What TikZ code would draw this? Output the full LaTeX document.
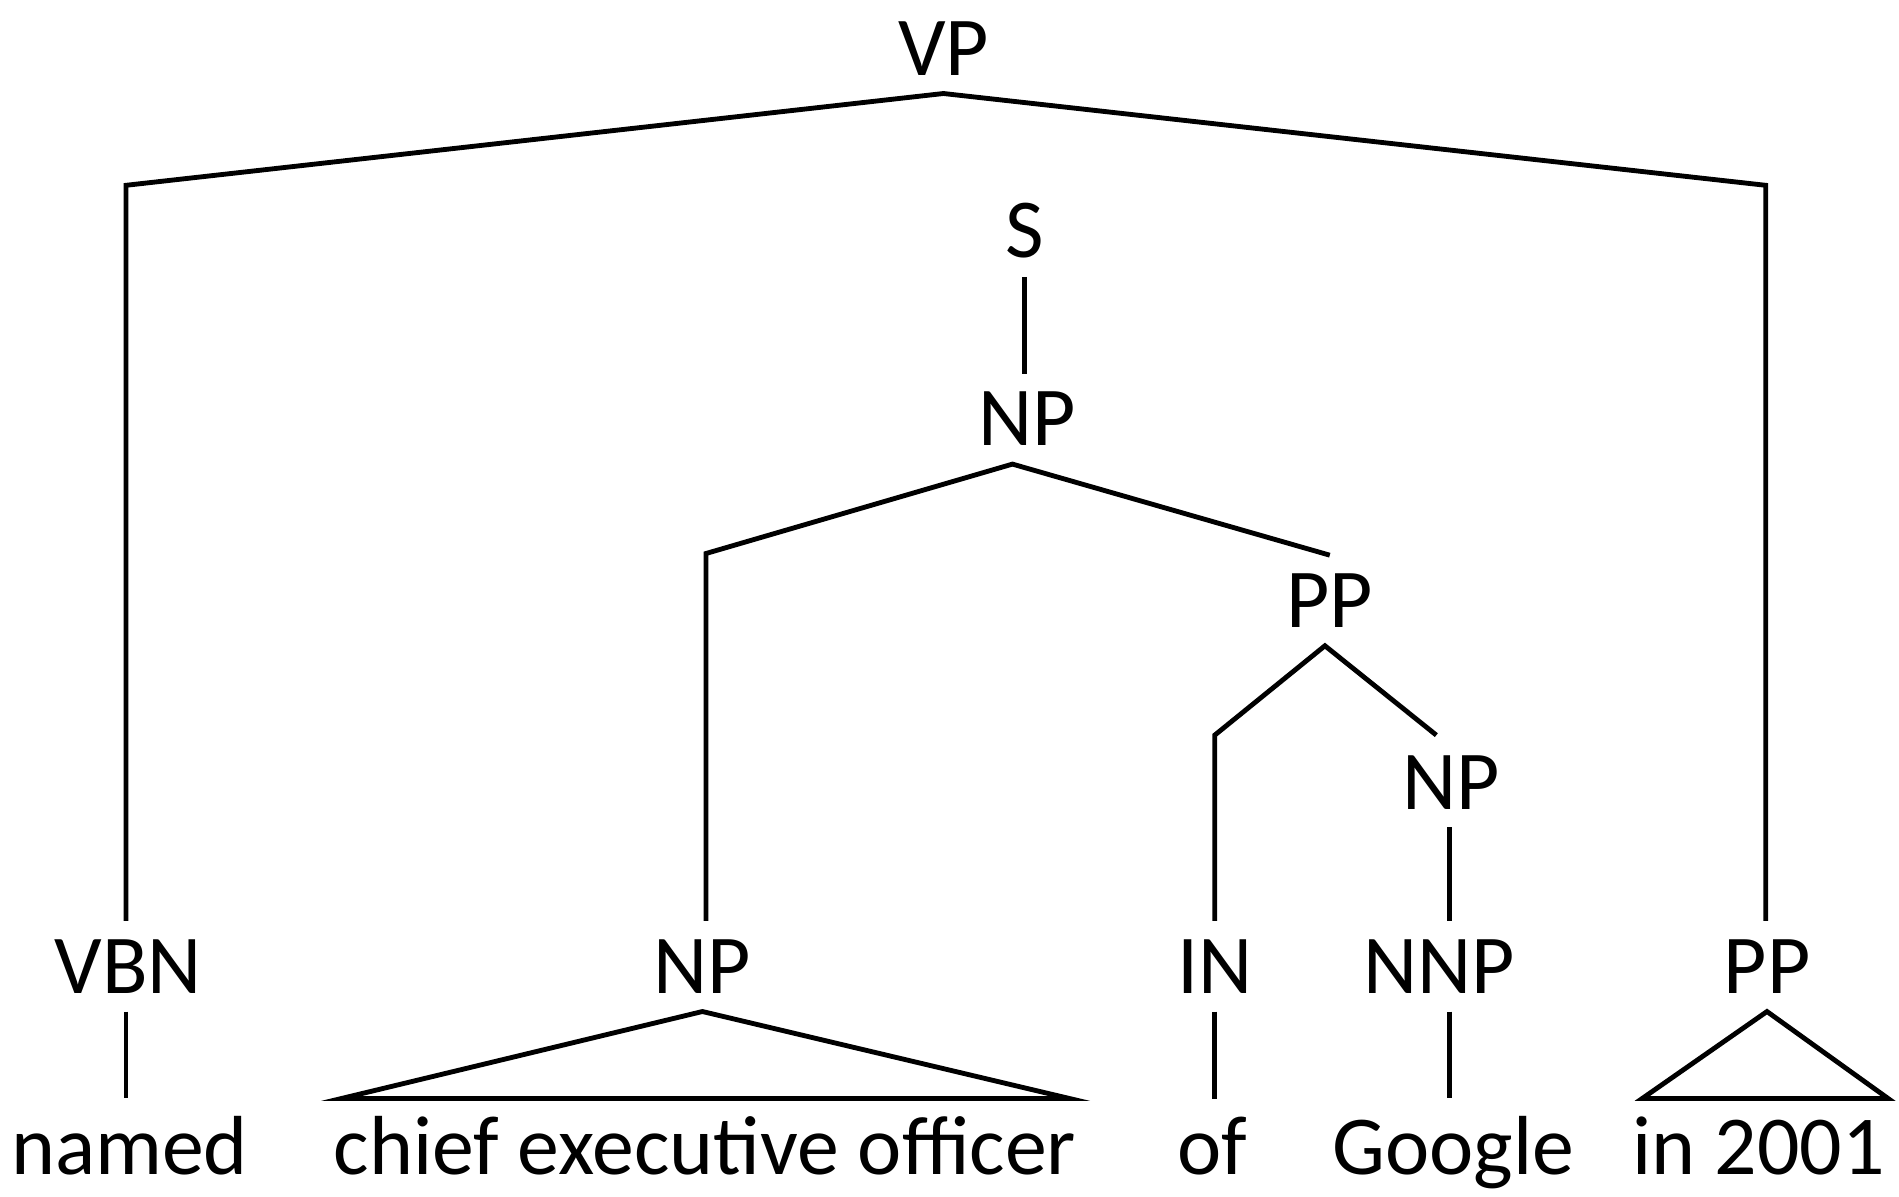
\documentclass[tikz,border=0pt]{standalone}
\usepackage{fontspec}
\setmainfont{Carlito}
\begin{document}
\begin{tikzpicture}[x=0.25pt,y=-0.25pt,line width=1pt,
  cat/.style={font=\fontsize{17.3}{21}\selectfont, inner sep=3.3pt, anchor=base},
  word/.style={font=\fontsize{17.3}{21}\selectfont, inner sep=3.3pt, anchor=base}]
\useasboundingbox (0,0) rectangle (1568,988);
\node[cat] (VP) at (779,62) {VP};
\node[cat] (S) at (846,213) {S};
\node[cat] (NP1) at (848,368) {NP};
\node[cat] (PP1) at (1098,518) {PP};
\node[cat] (NP2) at (1198,668) {NP};
\node[cat] (VBN) at (106,820) {VBN};
\node[cat] (NP3) at (580,820) {NP};
\node[cat] (IN) at (1003,820) {IN};
\node[cat] (NNP) at (1188,820) {NNP};
\node[cat] (PP2) at (1459,820) {PP};
\node[word] (named) at (107,970) {named};
\node[word] (ceo) at (582,970) {chief executive officer};
\node[word] (of) at (1001,970) {of};
\node[word] (google) at (1200,970) {Google};
\node[word] (in2001) at (1452,970) {in 2001};

\coordinate (vbnc) at (104,153);
\coordinate (ppc) at (1458,153);
\coordinate (npl) at (583,457);
\coordinate (inc) at (1003,607);
\coordinate (npr) at (1186,607);
\coordinate (ceol) at (282,907);
\coordinate (ceor) at (883,907);
\coordinate (inl) at (1356,907);
\coordinate (inr) at (1559,907);

\draw (vbnc |- VBN.north) to (vbnc) to (VP.south) to (ppc) to (ppc |- PP2.north);
\draw (S.south) to (S.south |- NP1.north);
\draw (npl |- NP3.north) to (npl) to ([xshift=-3pt]NP1.south) to (PP1.north);
\draw (inc |- IN.north) to (inc) to ([xshift=-1pt]PP1.south) to (npr);
\draw ([xshift=-0.25pt]NP2.south) to ([xshift=-0.25pt]NP2.south |- NNP.north);
\draw ([xshift=-0.5pt]VBN.south) to ([xshift=-0.5pt]VBN.south |- named.north);
\draw (IN.south) to (IN.south |- of.north);
\draw ([xshift=-0.25pt]NP2.south |- NNP.south) to ([xshift=-0.25pt]NP2.south |- google.north);
\draw (NP3.south) -- (ceol) -- (ceor) -- cycle;
\draw (PP2.south) -- (inl) -- (inr) -- cycle;
\end{tikzpicture}
\end{document}
